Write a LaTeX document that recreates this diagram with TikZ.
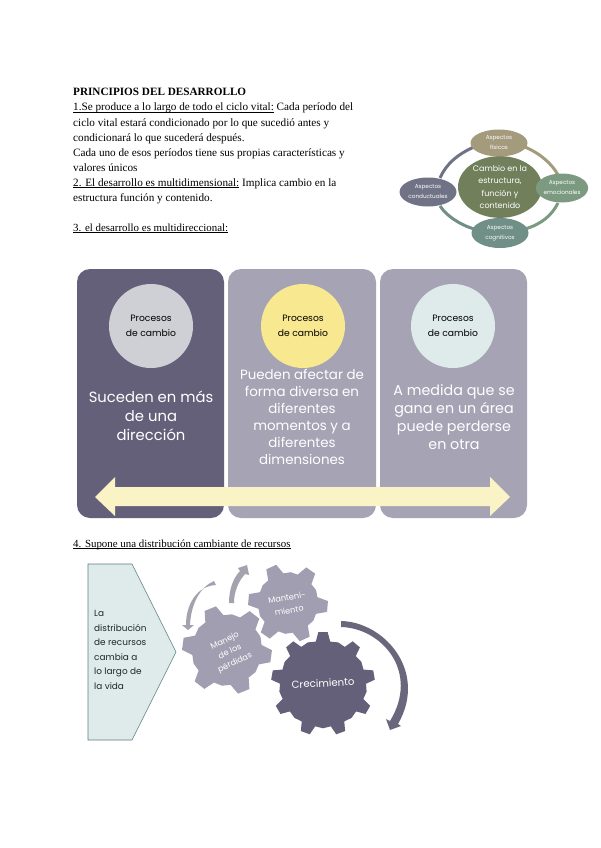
\documentclass[tikz,border=0pt]{standalone}
\usepackage{fontspec}
\setmainfont{Liberation Serif}
\newfontfamily\geofont{Poppins}
\usetikzlibrary{shapes.geometric}
\definecolor{darkp}{HTML}{65607A}
\definecolor{lightp}{HTML}{A6A3B5}
\definecolor{gearm}{HTML}{A09EB0}
\definecolor{arrowg}{HTML}{A3A3B0}
\definecolor{creamy}{HTML}{FAF3C5}
\definecolor{pale}{HTML}{DFEBEB}
\definecolor{tealb}{HTML}{5B7F80}
\definecolor{softgrey}{HTML}{CFCFD6}
\definecolor{softyellow}{HTML}{F8E88F}
\definecolor{orbittan}{HTML}{A49A7C}
\definecolor{orbitcen}{HTML}{71805B}
\definecolor{orbitrig}{HTML}{7C9A80}
\definecolor{orbitbot}{HTML}{6F8F87}
\definecolor{orbitlef}{HTML}{6F7385}
\newcommand{\lowline}[1]{\underline{\smash{#1}}}
\tikzset{
 x=1pt,y=-1pt,
 bodyline/.style={anchor=base west,inner sep=0,font=\fontsize{11.2}{14}\selectfont},
 shortline/.style={anchor=base west,inner sep=0,font=\fontsize{10.9}{14}\selectfont},
 panel/.style={fill=#1,rounded corners=13pt},
 headcircle/.style={circle,minimum size=84pt,inner sep=0,fill=#1,text=black,align=center,font=\geofont\fontsize{9.2}{15}\selectfont},
 paneltext/.style={text=white,align=center,inner sep=0},
 orbit/.style={ellipse,inner sep=0,fill=#1,text=white,align=center,font=\geofont\fontsize{5.7}{10}\selectfont},
 ringarc/.style={draw=#1,line width=3pt},
 geartext/.style={text=white,align=center,inner sep=0},
}
% center x, center y, body radius, outer radius, teeth, screen angle of first tooth, colour, base width, tip width (fractions of pitch)
\newcommand{\gearshape}[9]{%
 \pgfmathsetmacro{\gstep}{360/#5}%
 \pgfmathsetmacro{\gwa}{\gstep*#8}%
 \pgfmathsetmacro{\gwb}{\gstep*#9}%
 \fill[#7,shift={(#1,#2)}]
  ({-(#6)-\gwa}:#3)
  \foreach \k in {1,...,#5}{
    -- ({-(#6)+(\k-1)*\gstep-\gwb}:#4)
    -- ({-(#6)+(\k-1)*\gstep+\gwb}:#4)
    -- ({-(#6)+(\k-1)*\gstep+\gwa}:#3)
    -- ({-(#6)+(\k-1)*\gstep+\gstep/2}:#3*1.03)
    -- ({-(#6)+\k*\gstep-\gwa}:#3)
  } -- cycle;}
\begin{document}
\begin{tikzpicture}
\fill[white] (0,0) rectangle (600,848);
\useasboundingbox (0,0) rectangle (600,848);
% body text
\node[bodyline] (t0) at (73,96) {\textbf{PRINCIPIOS DEL DESARROLLO}};
\node[bodyline] (t1) at (73,111) {\lowline{1.Se produce a lo largo de todo el ciclo vital:} Cada período del};
\node[bodyline] (t2) at (73,126) {ciclo vital estará condicionado por lo que sucedió antes y};
\node[bodyline] (t3) at (73,141) {condicionará lo que sucederá después.};
\node[bodyline] (t4) at (73,156) {Cada uno de esos períodos tiene sus propias características y};
\node[bodyline] (t5) at (73,171) {valores únicos};
\node[bodyline] (t6) at (73,186) {\lowline{2. El desarrollo es multidimensional:} Implica cambio en la};
\node[bodyline] (t7) at (73,201) {estructura función y contenido.};
\node[shortline] (t8) at (73,231) {\lowline{3. el desarrollo es multidireccional:}};
\node[shortline] (t9) at (73,547) {\lowline{4. Supone una distribución cambiante de recursos}};
% cycle diagram
\draw[ringarc=orbittan] (525,147) .. controls (541,154) and (552,164) .. (558,175);
\draw[ringarc=orbitrig] (558,203) .. controls (552,215) and (542,224) .. (525,229);
\draw[ringarc=orbitbot] (474,229) .. controls (458,224) and (446,215) .. (440,206);
\draw[ringarc=orbitlef] (440,178) .. controls (446,164) and (458,154) .. (474,147);
\node[orbit=orbitcen,minimum width=84pt,minimum height=54pt,font=\geofont\fontsize{8}{12.5}\selectfont] (oc) at (500,187) {Cambio en la\\estructura,\\función y\\contenido};
\node[orbit=orbittan,minimum width=57pt,minimum height=27pt] (ot) at (499,143) {Aspectos\\físicos};
\node[orbit=orbitlef,minimum width=57pt,minimum height=29pt] (ol) at (428,192) {Aspectos\\conductuales};
\node[orbit=orbitrig,minimum width=44pt,minimum height=29pt] (or) at (562,188) {Aspectos\\emocionales};
\node[orbit=orbitbot,minimum width=57pt,minimum height=30pt] (ob) at (500,233) {Aspectos\\cognitivos};
% panels
\fill[panel=darkp] (77,269) rectangle (224,518);
\fill[panel=lightp] (228,269) rectangle (376,518);
\fill[panel=lightp] (380,269) rectangle (527,518);
\node[headcircle=softgrey] (c1) at (151,326) {Procesos\\de cambio};
\node[headcircle=softyellow] (c2) at (303,326) {Procesos\\de cambio};
\node[headcircle=pale] (c3) at (453,326) {Procesos\\de cambio};
\node[paneltext,font=\geofont\fontsize{14.8}{19}\selectfont] (p1) at (151,416) {Suceden en más\\de una\\dirección};
\node[paneltext,font=\geofont\fontsize{13.4}{17}\selectfont] (p2) at (302,417) {Pueden afectar de\\forma diversa en\\diferentes\\momentos y a\\diferentes\\dimensiones};
\node[paneltext,font=\geofont\fontsize{14.3}{18}\selectfont] (p3) at (454,417) {A medida que se\\gana en un área\\puede perderse\\en otra};
\fill[creamy] (95,497) -- (115,477) -- (115,487) -- (490,487) -- (490,477) -- (510,497) -- (490,516) -- (490,506) -- (115,506) -- (115,516) -- cycle;
% chevron
\draw[fill=pale,draw=tealb,line width=.6pt] (88,564) -- (132,564) -- (176,652) -- (132,740) -- (88,740) -- cycle;
\node[anchor=west,inner sep=0,align=left,text=black!70!tealb,font=\geofont\fontsize{8.9}{14.5}\selectfont] (ch) at (94,650) {La\\distribución\\de recursos\\cambia a\\lo largo de\\la vida};
% gears
\gearshape{288}{603}{30}{40}{6}{115}{gearm}{0.27}{0.13}
\gearshape{227}{650}{35}{45}{6}{112}{gearm}{0.27}{0.13}
\gearshape{323}{684}{43}{52}{9}{90}{darkp}{0.24}{0.13}
\node[geartext,rotate=10,font=\geofont\fontsize{8.2}{13}\selectfont] (g1) at (288,604) {Manteni-\\miento};
\node[geartext,rotate=25,font=\geofont\fontsize{8.2}{12}\selectfont] (g2) at (230,652) {Manejo\\de los\\pérdidas};
\node[geartext,rotate=3,font=\geofont\fontsize{10.2}{13}\selectfont] (g3) at (323,683) {Crecimiento};
% curved arrows
\fill[darkp!80!gray] (341,621) .. controls (385,622) and (428,672) .. (398,724) -- (401,726) -- (390,730) -- (386,719) -- (390,721) .. controls (420,672) and (382,628) .. (341,627) -- cycle;
\fill[arrowg] (214,581) .. controls (200,587) and (191,604) .. (190,625) -- (194,625) -- (188,630) -- (182,625) -- (186,625) .. controls (186,604) and (197,586) .. (216,585) -- cycle;
\fill[arrowg] (229,603) .. controls (229,590) and (233,578) .. (240,571) -- (238,568) -- (247,565) -- (249,575) -- (245,574) .. controls (238,582) and (234,592) .. (234,603) -- cycle;
\end{tikzpicture}
\end{document}
